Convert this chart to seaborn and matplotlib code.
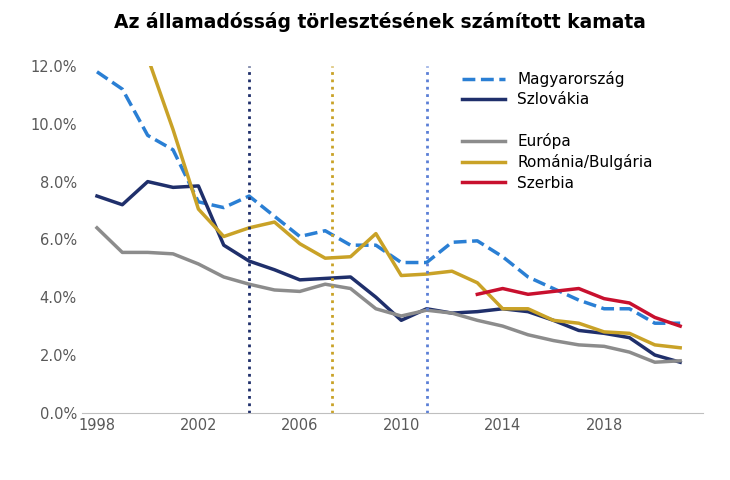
import numpy as np
import pandas as pd
import matplotlib.pyplot as plt
import seaborn as sns
from matplotlib.ticker import FuncFormatter

years = list(range(1998, 2022))
hu = [11.8, 11.2, 9.6, 9.1, 7.3, 7.1, 7.5, 6.8, 6.1, 6.3, 5.8, 5.8, 5.2, 5.2, 5.9, 5.95,
      5.4, 4.7, 4.3, 3.9, 3.6, 3.6, 3.1, 3.1]
sk = [7.5, 7.2, 8.0, 7.8, 7.85, 5.8, 5.25, 4.95, 4.6, 4.65, 4.7, 4.0, 3.2, 3.6, 3.45, 3.5,
      3.6, 3.5, 3.2, 2.85, 2.75, 2.6, 2.0, 1.75]
eu = [6.4, 5.55, 5.55, 5.5, 5.15, 4.7, 4.45, 4.25, 4.2, 4.45, 4.3, 3.6, 3.35, 3.55, 3.45, 3.2,
      3.0, 2.7, 2.5, 2.35, 2.3, 2.1, 1.75, 1.8]
rb_years = list(range(2000, 2022))
rb = [12.3, 9.8, 7.05, 6.1, 6.4, 6.6, 5.85, 5.35, 5.4, 6.2, 4.75, 4.8, 4.9, 4.5, 3.6, 3.6,
      3.2, 3.1, 2.8, 2.75, 2.35, 2.25]
rs_years = list(range(2013, 2022))
rs = [4.1, 4.3, 4.1, 4.2, 4.3, 3.95, 3.8, 3.3, 3.0]
vlines = [2004, 2007.25, 2011]
vcolors = ['#1f2f6b', '#c9a227', '#5b7fd6']

fig = plt.figure(figsize=(7.3, 4.8), dpi=100)
ax = fig.add_axes([0.112, 0.14, 0.851, 0.7225])

sns.lineplot(x=years, y=hu, ax=ax, color='#2a7fd4', lw=2.5, linestyle='--', label='Magyarország')
sns.lineplot(x=years, y=sk, ax=ax, color='#1f2f6b', lw=2.5, label='Szlovákia')
ax.plot([], [], color='none', label=' ')
sns.lineplot(x=years, y=eu, ax=ax, color='#8c8c8c', lw=2.5, label='Európa')
sns.lineplot(x=rb_years, y=rb, ax=ax, color='#c9a227', lw=2.5, label='Románia/Bulgária')
sns.lineplot(x=rs_years, y=rs, ax=ax, color='#c8102e', lw=2.5, label='Szerbia')
for v, c in zip(vlines, vcolors):
    ax.axvline(v, color=c, lw=2, linestyle=':')

ax.set_xlim(1997.4, 2021.9)
ax.set_ylim(0, 12)
ax.set_xticks([1998, 2002, 2006, 2010, 2014, 2018])
ax.set_yticks(np.arange(0, 12.1, 2))
ax.yaxis.set_major_formatter(FuncFormatter(lambda v, p: f'{v:.1f}%'))
ax.tick_params(length=0, colors='#595959', labelsize=10.5)
for s in ['top', 'right', 'left']:
    ax.spines[s].set_visible(False)
ax.spines['bottom'].set_color('#bfbfbf')
ax.legend(loc='upper left', bbox_to_anchor=(0.59, 1.025), frameon=False, fontsize=11,
          handlelength=2.8, labelspacing=0.35)
fig.text(0.52, 0.955, 'Az államadósság törlesztésének számított kamata', ha='center',
         va='center', fontsize=13.5, fontweight='bold')
fig.savefig('out.png', dpi=100)
